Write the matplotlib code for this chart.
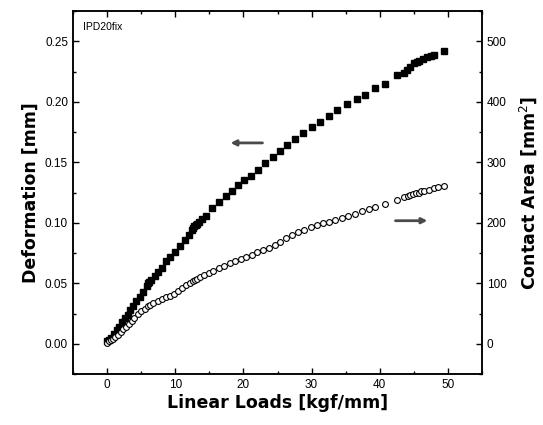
import matplotlib
matplotlib.use("Agg")
import matplotlib.pyplot as plt
from matplotlib.ticker import MultipleLocator

# deformation (filled squares, left axis)
load_def = [0.0, 0.3, 0.6, 1.0, 1.4, 1.8, 2.2, 2.6, 3.0, 3.4, 3.8, 4.3, 4.8, 5.3,
            5.8, 6.0, 6.2, 6.5, 7.0, 7.5, 8.1, 8.7, 9.3, 10.0, 10.7, 11.4, 12.0,
            12.4, 12.6, 12.8, 13.0, 13.2, 13.5, 13.9, 14.5, 15.4, 16.4, 17.4,
            18.3, 19.2, 20.1, 21.1, 22.1, 23.1, 24.3, 25.3, 26.4, 27.6, 28.8,
            30.0, 31.2, 32.5, 33.8, 35.2, 36.6, 37.9, 39.3, 40.7, 42.6, 43.5,
            44.0, 44.5, 45.0, 45.4, 45.8, 46.3, 46.9, 47.5, 48.0, 49.4]
deformation = [0.002, 0.003, 0.005, 0.008, 0.011, 0.014, 0.018, 0.021, 0.024,
               0.028, 0.031, 0.035, 0.039, 0.043, 0.048, 0.050, 0.051, 0.053,
               0.056, 0.059, 0.063, 0.068, 0.072, 0.076, 0.081, 0.086, 0.090,
               0.094, 0.096, 0.097, 0.098, 0.099, 0.101, 0.103, 0.106, 0.112,
               0.117, 0.122, 0.126, 0.131, 0.135, 0.139, 0.144, 0.149, 0.154,
               0.159, 0.164, 0.169, 0.174, 0.179, 0.183, 0.188, 0.193, 0.198,
               0.202, 0.206, 0.211, 0.215, 0.222, 0.224, 0.226, 0.229, 0.232,
               0.233, 0.234, 0.235, 0.237, 0.238, 0.239, 0.242]

# contact area (open circles, right axis)
load_area = [0.0, 0.3, 0.6, 0.9, 1.2, 1.6, 2.0, 2.4, 2.8, 3.2, 3.6, 4.0, 4.5, 5.0,
             5.5, 6.0, 6.3, 6.8, 7.4, 8.0, 8.6, 9.2, 9.8, 10.4, 11.0, 11.6, 12.2,
             12.6, 12.9, 13.2, 13.6, 14.2, 14.9, 15.6, 16.4, 17.2, 18.0, 18.8,
             19.6, 20.4, 21.2, 22.0, 22.9, 23.8, 24.6, 25.4, 26.2, 27.1, 28.0,
             28.9, 29.9, 30.8, 31.7, 32.6, 33.5, 34.4, 35.4, 36.4, 37.4, 38.4,
             39.3, 40.8, 42.5, 43.6, 44.1, 44.5, 44.9, 45.3, 45.7, 46.1, 46.5,
             47.2, 47.9, 48.6, 49.4]
contact_area = [2, 4, 6, 8, 11, 14, 19, 24, 28, 33, 38, 43, 49, 54, 58, 62, 64,
                67, 71, 74, 77, 79, 83, 87, 92, 97, 101, 104, 106, 107, 110, 113,
                117, 121, 125, 129, 133, 137, 140, 144, 147, 151, 155, 159, 164,
                169, 174, 179, 184, 188, 193, 196, 199, 202, 205, 208, 211, 215,
                219, 222, 226, 231, 237, 242, 244, 246, 248, 249, 250, 252, 253,
                255, 257, 259, 261]

plt.rcParams['font.family'] = ['Liberation Sans', 'DejaVu Sans']

fig = plt.figure(figsize=(5.43, 4.25), dpi=100)
ax = fig.add_axes([0.1344, 0.12, 0.7533, 0.854])
ax2 = ax.twinx()

ax.plot(load_def, deformation, 's', color='black', markersize=4.0, zorder=3)
ax2.plot(load_area, contact_area, 'o', markerfacecolor='white', markeredgecolor='black',
         markersize=4.2, markeredgewidth=0.8)

ax.set_xlim(-5, 55)
ax.set_ylim(-0.025, 0.275)
ax2.set_ylim(-50, 550)

ax.xaxis.set_major_locator(MultipleLocator(10))
ax.xaxis.set_minor_locator(MultipleLocator(5))
ax.yaxis.set_major_locator(MultipleLocator(0.05))
ax.yaxis.set_minor_locator(MultipleLocator(0.025))
ax2.yaxis.set_major_locator(MultipleLocator(100))
ax2.yaxis.set_minor_locator(MultipleLocator(50))
ax.yaxis.set_major_formatter(plt.FormatStrFormatter('%.2f'))

ax.tick_params(which='both', direction='in', top=True, labelsize=8.5, width=1)
ax.tick_params(which='major', length=4)
ax.tick_params(which='minor', length=2.5)
ax2.tick_params(which='both', direction='in', labelsize=8.5, width=1)
ax2.tick_params(which='major', length=4)
ax2.tick_params(which='minor', length=2.5)
for a in (ax, ax2):
    for s in a.spines.values():
        s.set_linewidth(1.1)

lab = dict(fontsize=12.5, fontweight='bold', family='DejaVu Sans')
ax.set_xlabel('Linear Loads [kgf/mm]', labelpad=2, **lab)
ax.set_ylabel('Deformation [mm]', labelpad=4, **lab)
ax2.set_ylabel('Contact Area [mm$^2$]', labelpad=8, **lab)

ax.text(0.025, 0.955, 'IPD20fix', transform=ax.transAxes, fontsize=7.5, va='center')

arrow = dict(arrowstyle='-|>', color='#4a4a4a', lw=2.0, mutation_scale=8)
ax.annotate('', xy=(17.7, 0.166), xytext=(23.2, 0.166), arrowprops=arrow)
ax.annotate('', xy=(47.4, 0.1017), xytext=(41.9, 0.1017), arrowprops=arrow)

fig.savefig('out.png', dpi=100)
